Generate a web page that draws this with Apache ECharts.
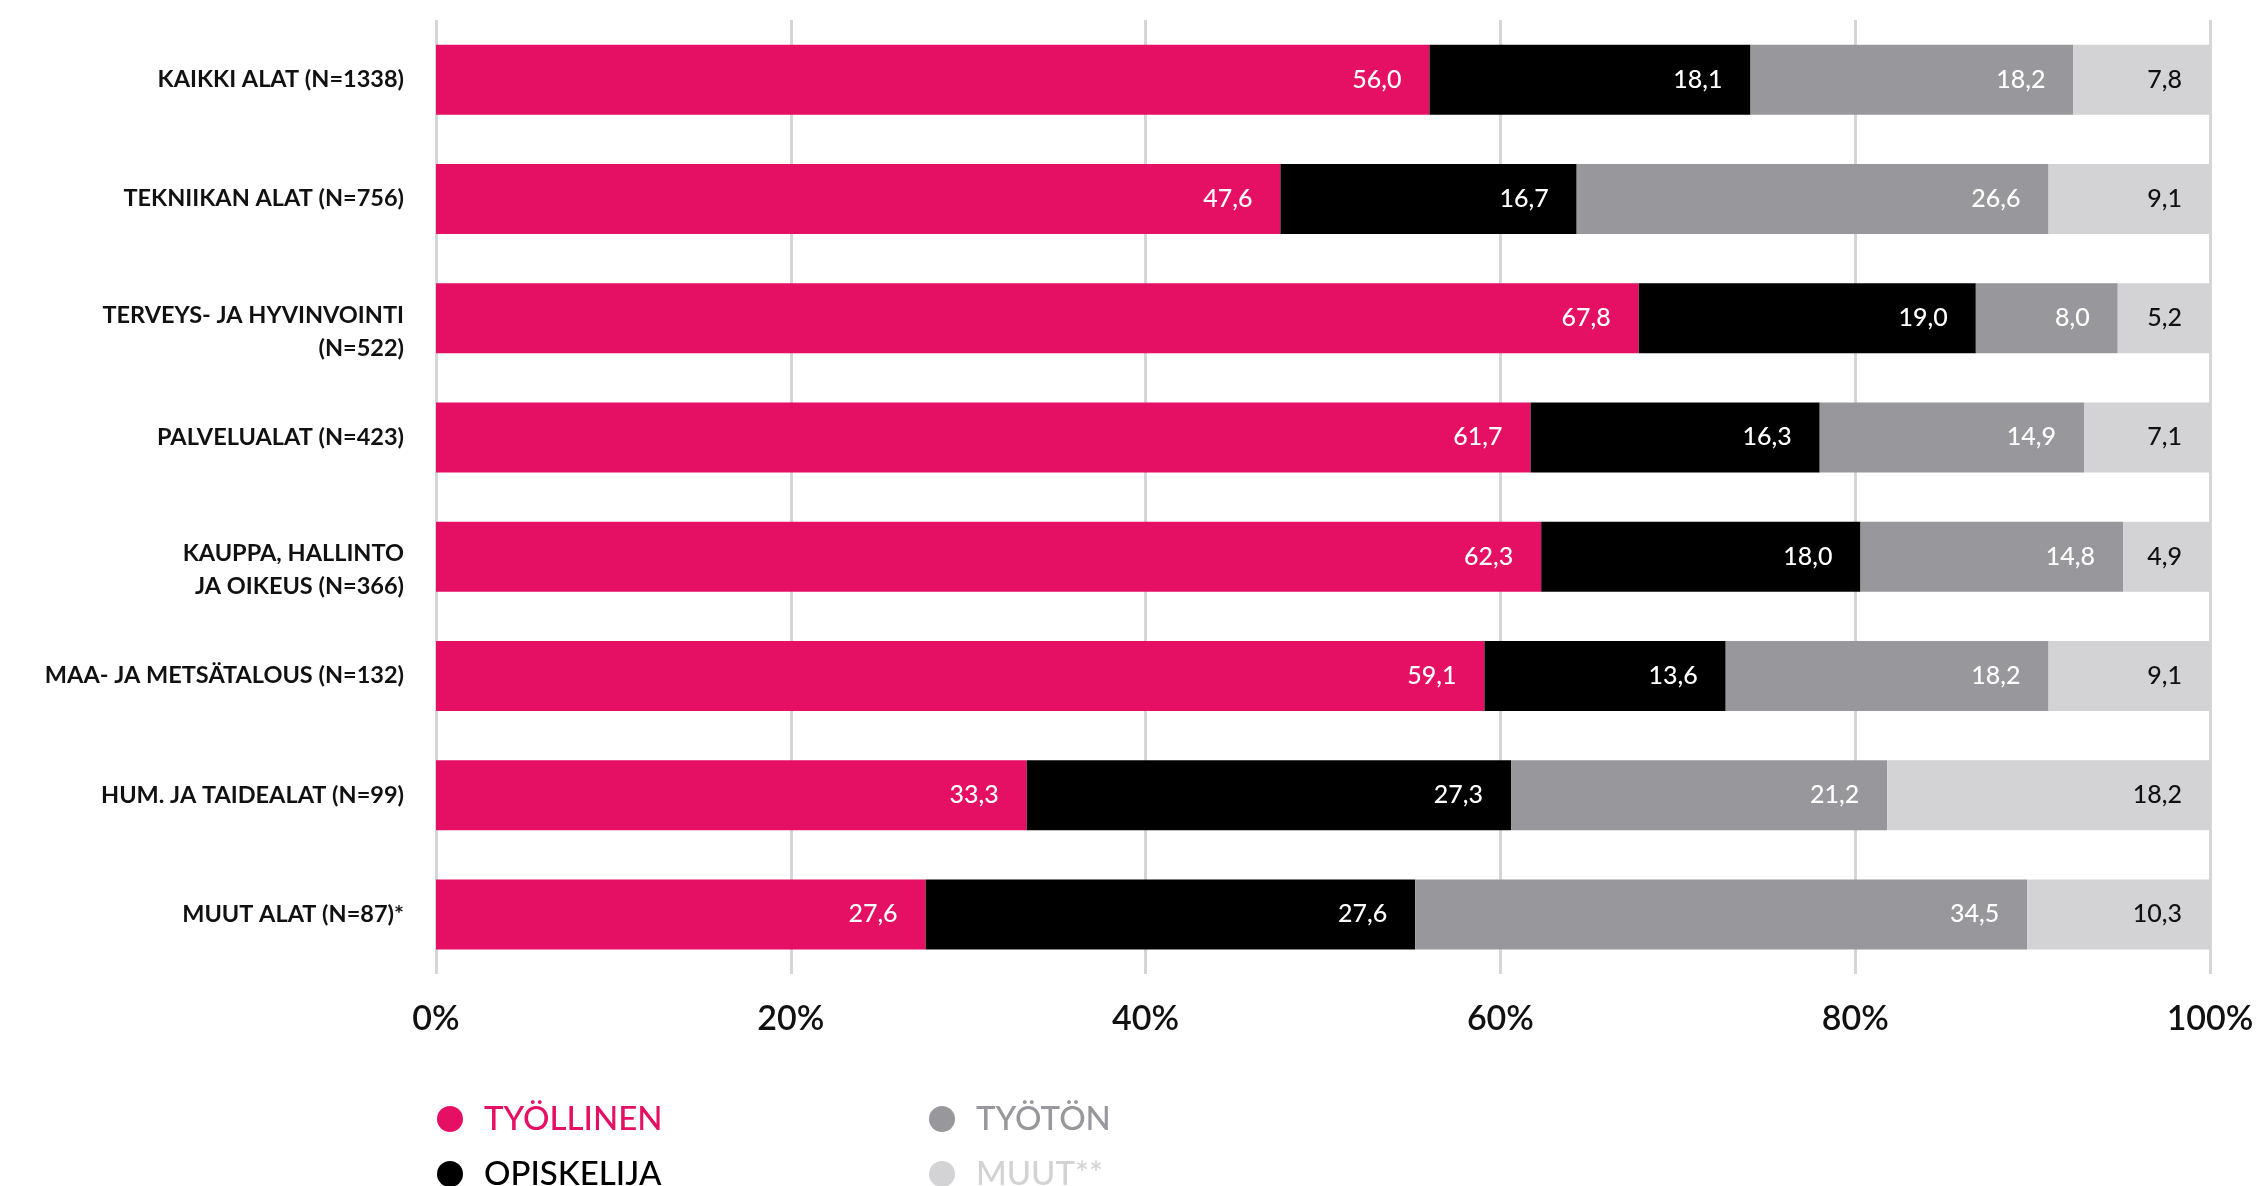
<!DOCTYPE html>
<html>
<head>
<meta charset="utf-8">
<title>Sijoittuminen koulutusaloittain</title>
<script src="https://cdn.jsdelivr.net/npm/echarts@6/dist/echarts.min.js"></script>
<style>
  html, body { margin: 0; padding: 0; background: #ffffff; }
  #chart { width: 2264px; height: 1186px; }
</style>
</head>
<body>
<div id="chart"></div>
<script>
// Koulutusalat (ylhäältä alas)
const categories = [
  'KAIKKI ALAT (N=1338)',
  'TEKNIIKAN ALAT (N=756)',
  'TERVEYS- JA HYVINVOINTI\n(N=522)',
  'PALVELUALAT (N=423)',
  'KAUPPA, HALLINTO\nJA OIKEUS (N=366)',
  'MAA- JA METSÄTALOUS (N=132)',
  'HUM. JA TAIDEALAT (N=99)',
  'MUUT ALAT (N=87)*'
];

// Osuudet prosentteina
const tyollinen  = [56.0, 47.6, 67.8, 61.7, 62.3, 59.1, 33.3, 27.6];
const opiskelija = [18.1, 16.7, 19.0, 16.3, 18.0, 13.6, 27.3, 27.6];
const tyoton     = [18.2, 26.6,  8.0, 14.9, 14.8, 18.2, 21.2, 34.5];
const muut       = [ 7.8,  9.1,  5.2,  7.1,  4.9,  9.1, 18.2, 10.3];

const seriesNames = ['TYÖLLINEN', 'OPISKELIJA', 'TYÖTÖN', 'MUUT**'];
const seriesColors = ['#e50f64', '#000000', '#98989c', '#d3d3d5'];
const labelColors = ['#ffffff', '#ffffff', '#ffffff', '#111111'];
const xTicks = [0, 20, 40, 60, 80, 100];

const fmt = v => v.toFixed(1).replace('.', ',');

const chart = echarts.init(document.getElementById('chart'));

function makeSeries(name, values, i) {
  return {
    name: name,
    type: 'bar',
    stack: 'total',
    barWidth: 70,
    data: values,
    itemStyle: { color: seriesColors[i] },
    label: {
      show: true,
      position: 'insideRight',
      distance: 28,
      color: labelColors[i],
      fontFamily: 'Lato',
      fontSize: 25,
      fontWeight: 500,
      formatter: p => fmt(p.value)
    },
    emphasis: { disabled: true }
  };
}

// One legend entry per block: two columns, two rows
function legendItem(idx, left, top) {
  return {
    left: left,
    top: top,
    padding: 0,
    itemWidth: 58,
    itemHeight: 26,
    icon: 'circle',
    selectedMode: false,
    textStyle: {
      fontFamily: 'Lato',
      fontSize: 33,
      fontWeight: 500,
      lineHeight: 40,
      padding: [6, 0, 0, 0],
      color: seriesColors[idx]
    },
    data: [seriesNames[idx]]
  };
}

// Axis labels: two-line names are pushed down so the first line sits at the bar centre
function categoryLabel(value) {
  if (value.indexOf('\n') < 0) return '{a|' + value + '}';
  return '{s| }\n' + value.split('\n').map(l => '{a|' + l + '}').join('\n');
}

chart.setOption({
  animation: false,
  backgroundColor: '#ffffff',
  grid: { left: 436, right: 54, top: 20, bottom: 212, containLabel: false },
  legend: [
    legendItem(0, 437, 1096),
    legendItem(1, 437, 1151),
    legendItem(2, 929, 1096),
    legendItem(3, 929, 1151)
  ],
  xAxis: {
    type: 'value',
    min: xTicks[0],
    max: xTicks[xTicks.length - 1],
    interval: xTicks[1] - xTicks[0],
    axisLine: { show: false },
    axisTick: { show: false },
    splitLine: { show: true, lineStyle: { color: '#d6d6d8', width: 3 } },
    axisLabel: {
      margin: 28,
      color: '#111111',
      fontFamily: 'Lato',
      fontSize: 34,
      fontWeight: 600,
      formatter: v => v + '%'
    }
  },
  yAxis: {
    type: 'category',
    inverse: true,
    data: categories,
    axisLine: { show: false },
    axisTick: { show: false },
    axisLabel: {
      margin: 32,
      align: 'right',
      formatter: categoryLabel,
      rich: {
        a: {
          color: '#111111',
          fontFamily: 'Lato',
          fontSize: 23.5,
          fontWeight: 'bold',
          lineHeight: 33,
          align: 'right'
        },
        s: { fontSize: 1, lineHeight: 27 }
      }
    }
  },
  series: [
    makeSeries(seriesNames[0], tyollinen, 0),
    makeSeries(seriesNames[1], opiskelija, 1),
    makeSeries(seriesNames[2], tyoton, 2),
    makeSeries(seriesNames[3], muut, 3)
  ]
});
</script>
</body>
</html>
